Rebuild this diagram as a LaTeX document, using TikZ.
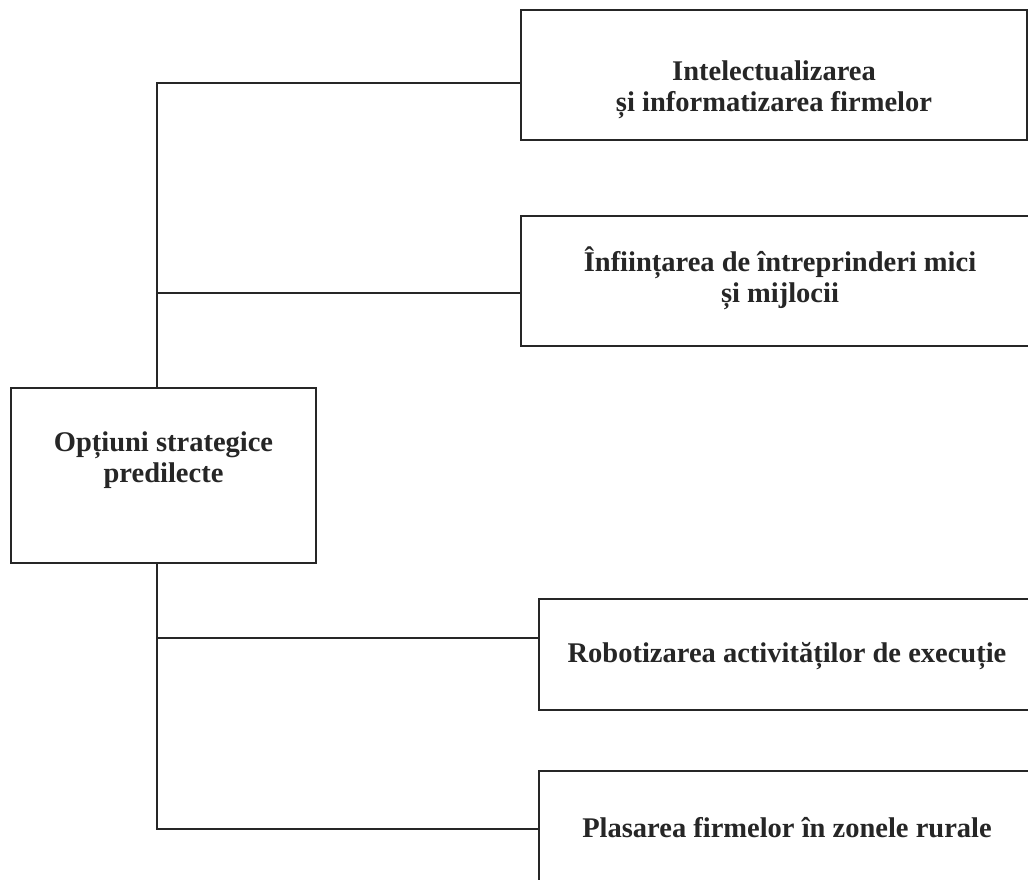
\documentclass[tikz,border=0pt]{standalone}
\usepackage{fontspec}
\setmainfont{Liberation Serif}
\begin{document}
\begin{tikzpicture}[x=1pt,y=-1pt,
  box/.style={draw=black!85, line width=1.5pt, rectangle, inner sep=0pt},
  boxtext/.style={font=\fontsize{28.5}{31}\selectfont\bfseries, align=center, text=black!85},
  link/.style={draw=black!85, line width=1.5pt, line join=miter}]
\useasboundingbox (0,0) rectangle (1028,879);
\fill[white] (0,0) rectangle (1028,879);
\clip (0,0) rectangle (1028,879);

% central box
\node[box, minimum width=305, minimum height=175,
      label={[boxtext, name=main-text, yshift=15]center:Opțiuni strategice\\predilecte}]
      (main) at (163.5,475.5) {};

% option boxes (running off the right edge)
\node[box, minimum width=506, minimum height=130,
      label={[boxtext, name=b1-text, yshift=-15]center:Intelectualizarea\\și informatizarea firmelor}]
      (b1) at (774,75) {};
\node[box, minimum width=518, minimum height=130,
      label={[boxtext, name=b2-text, yshift=3]center:Înființarea de întreprinderi mici\\și mijlocii}]
      (b2) at (780,281) {};
\node[box, minimum width=496, minimum height=111,
      label={[boxtext, name=b3-text, yshift=-2]center:Robotizarea activităților de execuție}]
      (b3) at (787,654.5) {};
\node[box, minimum width=496, minimum height=114,
      label={[boxtext, name=b4-text]center:Plasarea firmelor în zonele rurale}]
      (b4) at (787,828) {};

% junction points on the trunk line
\coordinate (j1) at (157,83);
\coordinate (j2) at (157,293);
\coordinate (j3) at (157,638);
\coordinate (j4) at (157,829);

% connectors
\draw[link] (j1 -| b1.west) -- (j1) -- (j1 |- main.north);
\draw[link] (j2) -- (j2 -| b2.west);
\draw[link] (j3) -- (j3 -| b3.west);
\draw[link] (j1 |- main.south) -- (j4) -- (j4 -| b4.west);
\end{tikzpicture}
\end{document}
